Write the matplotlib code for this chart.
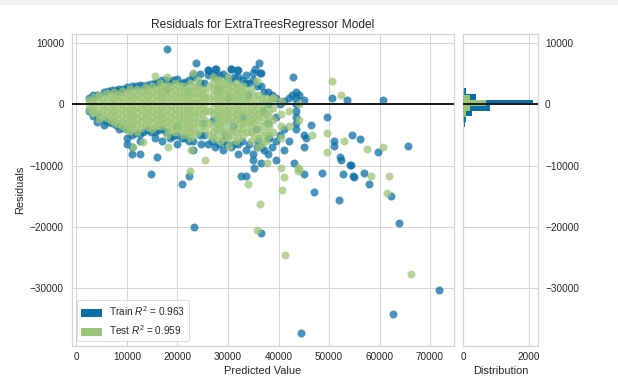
import matplotlib
matplotlib.use("Agg")
import matplotlib.pyplot as plt
import numpy as np
from matplotlib.patches import Patch, Rectangle

TRAIN_COLOR = "#0a6fa6"
TEST_COLOR = "#9cc577"
LINE_COLOR = "#1e1e1e"

TITLE = "Residuals for ExtraTreesRegressor Model"
TRAIN_LABEL = "Train $R^2$ = 0.963"
TEST_LABEL = "Test $R^2$ = 0.959"

# (predicted value, residual)
TRAIN_POINTS = [
    # dense band edges / interior
    (2500, 1000), (2500, -1000), (4000, 1500), (4000, -1800), (4000, -2800),
    (5500, 2000), (5500, -2500), (5500, -3300), (7000, 2300), (7000, -3000),
    (8500, 2500), (8500, 2000), (8500, -3300), (8500, -4000),
    (10000, 2800), (10000, -4000), (10000, -5500), (10000, -6500),
    (11000, 3000), (11000, -5000), (11000, -7000),
    (12500, 3100), (12500, -4800), (12500, -6000), (14000, 3200), (14000, -4200),
    (15500, 3500), (15500, -4500), (15500, -5500),
    (17000, 4000), (17000, -4000), (17000, -6000), (18500, 3700), (18500, -5500),
    (20000, 4200), (20000, -5000), (20000, -6500), (21500, 3600), (21500, -5500),
    (23000, 4500), (23000, 5000), (23000, -6000), (23000, -7500),
    (24500, 5000), (24500, 3500), (24500, -5000),
    (26000, 5700), (26000, 4800), (26000, -6500),
    (27500, 5800), (27500, 4500), (27500, -7000),
    (29000, 5000), (29000, -6000), (29000, -7500),
    (30500, 5800), (30500, 4000), (30500, -7000),
    (32000, 5700), (32000, 4500), (32000, -6500), (32000, -8000),
    (33500, 4800), (33500, 3500), (33500, -7500),
    (35000, 5200), (35000, 4000), (35000, -8000), (35000, -9000),
    (36500, 5200), (36500, 3000), (36500, -7000), (36500, -9500),
    (38000, 2000), (38000, 0), (38000, -3000), (38000, -5500), (38000, -8000),
    (39500, 1000), (39500, -2000), (39500, -6000), (39500, -9000),
    (41000, 500), (41000, -4000), (41000, -7500),
    (43500, 2000), (43500, 1000), (43500, 0), (43500, -1000), (43500, -2000),
    (43500, -3000), (43500, -4000), (45000, -5000), (45000, -7000),
    (28000, 2500), (30000, 1000), (33000, -2000), (35500, -4000), (37000, -1000),
    (31000, -3500), (29500, -5000), (34000, 1500), (36000, -6000), (27000, -2500),
    (25000, -3000), (22000, 2000), (20000, -3500), (18000, 2500),
    (3200, 1500), (3200, -1800), (6200, 2200), (6200, -2800), (7800, 2400),
    (7800, -3400), (9200, 2600), (9200, -3800), (11800, 3000), (11800, -4700),
    (13200, 3000), (13200, -4500), (14800, 3300), (14800, -4500), (16200, 3700),
    (16200, -4200), (17800, 4000), (17800, -4500), (19200, 4000), (19200, -5200),
    (20800, 3500), (20800, -5500), (22200, 4000), (22200, -6000), (25200, 3500),
    (25200, -5000), (26800, 5000), (26800, -6000), (28200, 4800), (28200, -6500),
    (29800, 4500), (29800, -6500), (31200, 4500), (31200, -6500), (32800, 4000),
    (32800, -6000), (34200, 3500), (34200, -6500), (35800, 3000), (35800, -7000),
    (37200, 2000), (37200, -7500), (38800, 1500), (38800, -7000), (40200, 0),
    (40200, -5000), (42000, -6000), (42000, 1000),
    # scattered points
    (18000, 9100), (23600, 6700), (26100, 5700), (27700, 5850), (30500, 5850),
    (31700, 5700), (36100, 6850), (35400, 5850), (36400, 5200), (42800, 4550),
    (42600, 1600), (44000, 1600), (45000, 800), (50500, 1000), (53600, 800),
    (60600, 800), (49700, -2100), (50900, -6000), (50900, -6700), (54600, -4900),
    (56200, -5700), (59800, -7700), (65700, -6700), (52100, -8500), (52300, -9000),
    (54300, -9800), (46500, -3400), (48700, -11100), (52700, -11300), (54100, -9900),
    (54800, -11700), (57000, -11100), (58000, -12900), (62200, -15000),
    (47100, -14200), (51900, -15500), (63800, -19400), (55000, -11900),
    (45000, -11300), (36600, -21000), (71700, -30200), (62600, -34200),
    (44500, -37200), (23200, -20000), (14700, -11400), (22200, -11700),
    (20800, -12900), (10900, -8100), (12500, -8000), (16000, -8600),
    (32500, -11700), (33500, -11700), (35200, -10400), (24700, -6500),
    (43000, -9500), (45500, -5500), (38200, -5400),
]

TEST_POINTS = [
    # dense band core
    (2500, 0), (2500, 800), (2500, -800),
    (3500, 1200), (3500, 0), (3500, -1200),
    (4500, 1500), (4500, 500), (4500, -500), (4500, -1500), (4500, -2300),
    (6000, 1800), (6000, 800), (6000, -200), (6000, -1200), (6000, -2200),
    (7500, 2000), (7500, 1000), (7500, 0), (7500, -1000), (7500, -2000), (7500, -2800),
    (9000, 2200), (9000, 1200), (9000, 200), (9000, -800), (9000, -1800),
    (9000, -2800), (9000, -3500),
    (10500, 2500), (10500, 1500), (10500, 500), (10500, -500), (10500, -1500),
    (10500, -2500), (10500, -3500), (10500, -4300),
    (12000, 2600), (12000, 1600), (12000, 600), (12000, -400), (12000, -1400),
    (12000, -2400), (12000, -3400), (12000, -4500),
    (13500, 2800), (13500, 1800), (13500, 800), (13500, -200), (13500, -1200),
    (13500, -2200), (13500, -3200),
    (15000, 3000), (15000, 2000), (15000, 1000), (15000, 0), (15000, -1000),
    (15000, -2000), (15000, -3000), (15000, -4000),
    (16500, 3500), (16500, 2500), (16500, 1500), (16500, 500), (16500, -500),
    (16500, -1500), (16500, -2500), (16500, -3500),
    (18000, 4500), (18000, 3200), (18000, 2200), (18000, 1200), (18000, 200),
    (18000, -800), (18000, -1800), (18000, -2800), (18000, -3800), (18000, -5000),
    (19500, 3500), (19500, 2500), (19500, 1500), (19500, 500), (19500, -500),
    (19500, -1500), (19500, -2500), (19500, -3500), (19500, -4500),
    (21000, 3000), (21000, 2000), (21000, 1000), (21000, 0), (21000, -1000),
    (21000, -2000), (21000, -3000), (21000, -4000), (21000, -5000),
    (22500, 3500), (22500, 2500), (22500, 1500), (22500, 500), (22500, -500),
    (22500, -1500), (22500, -2500), (22500, -3500), (22500, -4500), (22500, -5500),
    (24000, 4000), (24000, 3000), (24000, 2000), (24000, 1000), (24000, 0),
    (24000, -1000), (24000, -2000), (24000, -3000), (24000, -4500),
    (25500, 2000), (25500, 1000), (25500, 0), (25500, -1000), (25500, -2500),
    (25500, -4000),
    (27000, 4500), (27000, 3500), (27000, 2500), (27000, 1500), (27000, 500),
    (27000, -500), (27000, -1500), (27000, -3500), (27000, -4500), (27000, -5500),
    (28500, 4000), (28500, 3000), (28500, 2000), (28500, 1000), (28500, 0),
    (28500, -1000), (28500, -2000), (28500, -3000), (28500, -4000), (28500, -6000),
    (30000, 4500), (30000, 3500), (30000, 2500), (30000, 1500), (30000, 500),
    (30000, -500), (30000, -1500), (30000, -2500), (30000, -4500), (30000, -5500),
    (31500, 3500), (31500, 2500), (31500, 1500), (31500, 500), (31500, -500),
    (31500, -1500), (31500, -2500), (31500, -4500), (31500, -6000),
    (33000, 3000), (33000, 2000), (33000, 1000), (33000, 0), (33000, -1000),
    (33000, -3000), (33000, -4000), (33000, -5000),
    (34500, 2500), (34500, 500), (34500, -500), (34500, -1500), (34500, -2500),
    (34500, -3500), (34500, -4500), (34500, -6000),
    (36000, 1500), (36000, 500), (36000, -500), (36000, -1500), (36000, -2500),
    (36000, -4000), (36000, -5500), (36000, -7000),
    (37500, 1000), (37500, 0), (37500, -1500), (37500, -3000), (37500, -4500),
    (37500, -6000),
    (39000, 1000), (39000, -500), (39000, -2500), (39000, -4500),
    (40500, 500), (40500, -1500), (40500, -3500), (40500, -5500),
    (42000, -1000), (42000, -3500), (44000, 0), (44000, -2500),
    (3200, 500), (3200, -500), (3200, -1400),
    (5200, 1100), (5200, 100), (5200, -900), (5200, -1900),
    (6800, 1400), (6800, 400), (6800, -600), (6800, -1600), (6800, -2500),
    (8200, 1600), (8200, 600), (8200, -400), (8200, -1400), (8200, -2400), (8200, -3200),
    (9800, 1800), (9800, 800), (9800, -200), (9800, -1200), (9800, -2200),
    (9800, -3200), (9800, -4000),
    (11200, 2100), (11200, 1100), (11200, 100), (11200, -900), (11200, -1900),
    (11200, -2900), (11200, -3900),
    (12800, 2200), (12800, 1200), (12800, 200), (12800, -800), (12800, -1800),
    (12800, -2800), (12800, -3800),
    (14200, 2400), (14200, 1400), (14200, 400), (14200, -600), (14200, -1600),
    (14200, -2600), (14200, -3600),
    (15800, 2500), (15800, 1500), (15800, 500), (15800, -500), (15800, -1500),
    (15800, -2500), (15800, -3500),
    (17200, 3000), (17200, 2000), (17200, 1000), (17200, 0), (17200, -1000),
    (17200, -2000), (17200, -3000),
    (18800, 2800), (18800, 1800), (18800, 800), (18800, -200), (18800, -1200),
    (18800, -2200), (18800, -3200), (18800, -4200),
    (20200, 3000), (20200, 2000), (20200, 1000), (20200, 0), (20200, -1000),
    (20200, -2000), (20200, -3000), (20200, -4000),
    (21800, 2500), (21800, 1500), (21800, 500), (21800, -500), (21800, -1500),
    (21800, -2500), (21800, -3500), (21800, -4500),
    (23200, 3000), (23200, 2000), (23200, 1000), (23200, 0), (23200, -1000),
    (23200, -2000), (23200, -3000), (23200, -4000), (23200, -5000),
    (24800, 2500), (24800, 1500), (24800, 500), (24800, -500), (24800, -1500),
    (24800, -3500),
    (26200, 3000), (26200, 1000), (26200, -1000), (26200, -3000), (26200, -5000),
    (27800, 4000), (27800, 3000), (27800, 2000), (27800, 1000), (27800, 0),
    (27800, -1000), (27800, -2000), (27800, -3000), (27800, -4000), (27800, -5000),
    (29200, 3500), (29200, 2500), (29200, 1500), (29200, 500), (29200, -500),
    (29200, -1500), (29200, -2500), (29200, -3500), (29200, -4500), (29200, -5500),
    (30800, 3000), (30800, 2000), (30800, 1000), (30800, 0), (30800, -1000),
    (30800, -2000), (30800, -3000), (30800, -4000), (30800, -5000),
    (32200, 3000), (32200, 2000), (32200, 1000), (32200, 0), (32200, -1000),
    (32200, -2000), (32200, -3000), (32200, -4000), (32200, -5500),
    (33800, 2000), (33800, 1000), (33800, 0), (33800, -1000), (33800, -2000),
    (33800, -3000), (33800, -4500),
    (35200, 1500), (35200, 0), (35200, -1000), (35200, -2000), (35200, -3000),
    (35200, -5000),
    (36800, 1000), (36800, 0), (36800, -1000), (36800, -2000), (36800, -3500),
    (36800, -5000), (36800, -6500),
    (38200, 500), (38200, -1000), (38200, -2000), (38200, -3500), (38200, -5000),
    # scattered points
    (50500, 3900), (52300, 1600), (49700, -4700), (53000, -5900), (57600, -7200),
    (60600, -7000), (49700, -7700), (58400, -11700), (61800, -11700),
    (61400, -14500), (66300, -27700), (35800, -20400), (36400, -16300),
    (41200, -24500), (40600, -14000), (41000, -11900), (43800, -10300),
    (43800, -10800), (22400, -10800), (25500, -9000), (13100, -6200),
    (11100, -7000), (18200, -7000), (22600, -7500), (30100, -6700),
    (33900, -12900), (37800, -9500), (40400, -10300), (44000, -10600),
    (46700, -4900), (39000, 1000), (15600, 4700), (23000, 5100), (35800, 3900),
]

# histogram of residuals (bin edges, counts)
TRAIN_HIST_EDGES = [-3700, -2800, -1900, -1000, -100, 800, 1700, 2700]
TRAIN_HIST_COUNTS = [70, 90, 260, 820, 2120, 400, 95]
TEST_HIST_EDGES = [-2900, -2000, -1100, -200, 700, 1600, 2600]
TEST_HIST_COUNTS = [30, 95, 220, 700, 200, 40]

X_TICKS = [0, 10000, 20000, 30000, 40000, 50000, 60000, 70000]
Y_TICKS = [-30000, -20000, -10000, 0, 10000]
HIST_X_TICKS = [0, 2000]

train_pred, train_resid = np.array(TRAIN_POINTS).T
test_pred, test_resid = np.array(TEST_POINTS).T

plt.rcParams.update({
    "font.family": ["Liberation Sans", "DejaVu Sans"],
    "font.size": 10,
    "mathtext.fontset": "custom",
    "mathtext.rm": "Liberation Sans",
    "mathtext.it": "Liberation Sans:italic",
    "axes.edgecolor": "#d4d4d4",
    "axes.linewidth": 1.25,
    "grid.color": "#d4d4d4",
    "grid.linewidth": 1.0,
    "xtick.major.size": 0,
    "ytick.major.size": 0,
    "text.color": "#262626",
    "axes.labelcolor": "#262626",
    "xtick.color": "#262626",
    "ytick.color": "#262626",
})

W, H = 618, 392
fig = plt.figure(figsize=(W / 72, H / 72), dpi=72)
fig.patches.append(Rectangle((0, 1 - 4 / H), 1, 4 / H, transform=fig.transFigure,
                             color="#f1f1f1", zorder=0))

ax = fig.add_axes([72 / W, 46 / H, 382 / W, 312 / H])
hax = fig.add_axes([463 / W, 46 / H, 75 / W, 312 / H])

ax.scatter(train_pred, train_resid, s=64, c=TRAIN_COLOR, alpha=0.75, linewidths=0, zorder=2)
ax.scatter(test_pred, test_resid, s=64, c=TEST_COLOR, alpha=0.75, linewidths=0, zorder=3)
ax.axhline(0, color=LINE_COLOR, lw=2, zorder=4)

ax.set_xlim(-890, 74750)
ax.set_ylim(-39400, 11500)
ax.set_xticks(X_TICKS)
ax.set_yticks(Y_TICKS)
ax.grid(True, zorder=0)
ax.set_axisbelow(True)
ax.tick_params(axis="y", pad=8, labelsize=10)
ax.tick_params(axis="x", pad=6, labelsize=10)
ax.set_title(TITLE, fontsize=12, pad=6)
ax.set_xlabel("Predicted Value", fontsize=11, labelpad=4)
ax.set_ylabel("Residuals", fontsize=11, labelpad=5)

handles = [Patch(color=TRAIN_COLOR, label=TRAIN_LABEL),
           Patch(color=TEST_COLOR, label=TEST_LABEL)]
leg = ax.legend(handles=handles, loc="lower left", frameon=True, fontsize=10,
                framealpha=0.8, edgecolor="#d4d4d4", fancybox=True)
leg.set_zorder(5)

tr_edges = np.array(TRAIN_HIST_EDGES)
te_edges = np.array(TEST_HIST_EDGES)
hax.barh(tr_edges[:-1], TRAIN_HIST_COUNTS, height=np.diff(tr_edges), align="edge",
         color=TRAIN_COLOR, zorder=2)
hax.barh(te_edges[:-1], TEST_HIST_COUNTS, height=np.diff(te_edges), align="edge",
         color=TEST_COLOR, zorder=3)
hax.axhline(0, color=LINE_COLOR, lw=2, zorder=4)
hax.set_ylim(ax.get_ylim())
hax.set_xlim(0, 2270)
hax.set_yticks(Y_TICKS)
hax.set_xticks(HIST_X_TICKS)
hax.yaxis.tick_right()
hax.grid(True, zorder=0)
hax.set_axisbelow(True)
hax.tick_params(axis="y", pad=7, labelsize=10)
hax.tick_params(axis="x", pad=6, labelsize=10)
hax.set_xlabel("Distribution", fontsize=11, labelpad=4)

fig.savefig("out.png", dpi=72)
